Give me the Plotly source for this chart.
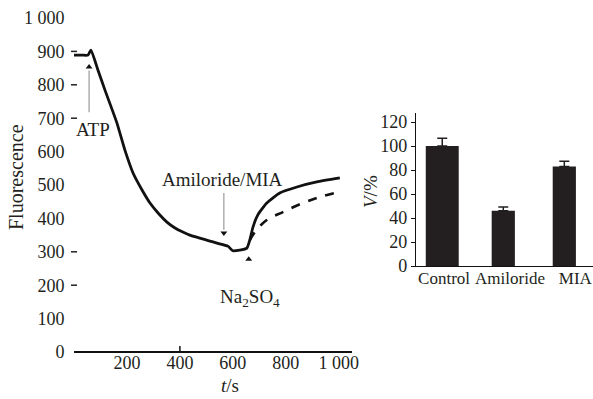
import plotly.graph_objects as go

# ---------------- data ----------------
# fluorescence trace (solid: control)
t_solid = [0, 30, 53, 64, 90, 117, 162, 192, 223, 257, 287, 320, 351, 380, 411, 440, 475, 510, 540, 581,
           600, 626, 653, 664, 676, 694, 728, 777, 842, 917, 1004]
f_solid = [889, 889, 889, 904, 845, 784, 686, 605, 536, 485, 446, 414, 389, 372, 359, 349, 341, 333, 326, 317,
           303, 305, 311, 335, 374, 410, 446, 476, 494, 509, 521]
# dashed: amiloride / MIA
t_dash = [664, 683, 728, 789, 864, 928, 985]
f_dash = [335, 359, 395, 419, 446, 464, 476]

x_ticks = [200, 400, 600, 800, 1000]
x_ticktext = ["200", "400", "600", "800", "1 000"]
y_ticks = [0, 100, 200, 300, 400, 500, 600, 700, 800, 900, 1000]
y_ticktext = ["0", "100", "200", "300", "400", "500", "600", "700", "800", "900", "1 000"]
y_dash_ticks = [900, 800, 700, 300, 200]

# events
atp_t, atp_from, atp_to = 57, 718, 853
ami_t, ami_from, ami_to = 566, 476, 356
na_t, na_val = 660, 278

# bar chart
groups = ["Control", "Amiloride", "MIA"]
v_pct = [100, 46, 83]
v_err = [6.5, 3.2, 4.3]
bar_widths = [0.54, 0.38, 0.38]
group_label_pos = [0.03, 1.11, 2.18]
v_ticks = [0, 20, 40, 60, 80, 100, 120]

FONT = "Liberation Serif"
TXT = "#231f20"
BAR = "#231f20"
GREY = "#9a9a9a"

fig = go.Figure()

fig.add_trace(go.Scatter(x=t_solid, y=f_solid, mode="lines", line=dict(color="#111111", width=2.8, shape="spline", smoothing=0.5),
                         xaxis="x", yaxis="y", showlegend=False, hoverinfo="skip"))
fig.add_trace(go.Scatter(x=t_dash, y=f_dash, mode="lines", line=dict(color="#111111", width=2.6, dash="dash", shape="spline"),
                         xaxis="x", yaxis="y", showlegend=False, hoverinfo="skip"))

# arrows (grey lines) + black arrowheads
fig.add_trace(go.Scatter(x=[atp_t, atp_t], y=[atp_from, atp_to - 10], mode="lines", line=dict(color=GREY, width=1.2),
                         xaxis="x", yaxis="y", showlegend=False, hoverinfo="skip"))
fig.add_trace(go.Scatter(x=[ami_t, ami_t], y=[ami_from, ami_to + 10], mode="lines", line=dict(color=GREY, width=1.2),
                         xaxis="x", yaxis="y", showlegend=False, hoverinfo="skip"))
fig.add_trace(go.Scatter(x=[atp_t, na_t], y=[atp_to, na_val], mode="markers",
                         marker=dict(symbol="triangle-up", size=6, color="#111111"),
                         xaxis="x", yaxis="y", showlegend=False, hoverinfo="skip"))
fig.add_trace(go.Scatter(x=[ami_t], y=[ami_to], mode="markers",
                         marker=dict(symbol="triangle-down", size=6, color="#111111"),
                         xaxis="x", yaxis="y", showlegend=False, hoverinfo="skip"))

# bars
fig.add_trace(go.Bar(x=groups, y=v_pct, width=bar_widths, marker=dict(color=BAR, line=dict(width=0)),
                     error_y=dict(type="data", array=v_err, arrayminus=[0, 0, 0], symmetric=False,
                                  color=BAR, thickness=1.5, width=5),
                     xaxis="x2", yaxis="y2", showlegend=False, hoverinfo="skip"))
# invisible helper trace so the category-label axis is drawn
fig.add_trace(go.Scatter(x=group_label_pos, y=[0, 0, 0], mode="markers", marker=dict(opacity=0, size=1),
                         xaxis="x3", yaxis="y2", showlegend=False, hoverinfo="skip"))

W, H = 593, 399
def px(x): return x / W
def py(y): return 1 - y / H

fig.update_layout(
    width=W, height=H, margin=dict(l=0, r=0, t=0, b=0, autoexpand=False),
    paper_bgcolor="white", plot_bgcolor="white",
    font=dict(family=FONT, size=18, color=TXT),
    # x axis placed a little above the zero line so its labels sit close to the line
    xaxis=dict(domain=[px(74), px(352)], range=[0, 1050], tickvals=x_ticks, ticktext=x_ticktext,
               showgrid=False, zeroline=False, showline=False,
               ticks="", tickfont=dict(size=18, family=FONT, color=TXT),
               anchor="free", position=py(350), automargin=False),
    yaxis=dict(domain=[py(352), py(18)], range=[0, 1000], tickvals=y_ticks, ticktext=y_ticktext,
               showgrid=False, zeroline=True, zerolinecolor="#111111", zerolinewidth=2,
               showline=False, ticks="outside", ticklen=5, tickcolor="rgba(0,0,0,0)",
               tickfont=dict(size=18, family=FONT, color=TXT), anchor="x", automargin=False),
    xaxis2=dict(domain=[px(416), px(593)], range=[-0.43, 2.47], type="category",
                showgrid=False, zeroline=False, showline=True, linecolor="#111111", linewidth=1.2,
                ticks="", showticklabels=False, anchor="y2", automargin=False),
    xaxis3=dict(domain=[px(416), px(593)], range=[-0.43, 2.47], overlaying="x2", anchor="y2",
                tickvals=group_label_pos, ticktext=groups, tickangle=0,
                showgrid=False, zeroline=False, showline=False, ticks="",
                tickfont=dict(size=17, family=FONT, color=TXT), automargin=False),
    yaxis2=dict(domain=[py(266), py(113)], range=[0, 127.5], tickvals=v_ticks,
                showgrid=False, zeroline=False, showline=True, linecolor="#111111", linewidth=1.2,
                ticks="outside", ticklen=4, tickcolor="#111111",
                tickfont=dict(size=18, family=FONT, color=TXT), anchor="x2", automargin=False),
)

shapes = []
for v in y_dash_ticks:
    shapes.append(dict(type="line", xref="paper", yref="y", x0=px(71), x1=px(77), y0=v, y1=v,
                       line=dict(color="#222222", width=1.5)))
shapes.append(dict(type="line", xref="x", yref="y", x0=400, x1=400, y0=0, y1=18,
                   line=dict(color="#111111", width=1.5)))
fig.update_layout(shapes=shapes)

ann = [
    dict(text="Fluorescence", x=px(16), y=py(177), xref="paper", yref="paper", textangle=-90,
         xanchor="center", yanchor="middle", showarrow=False, font=dict(size=20, family=FONT, color=TXT)),
    dict(text="<i>t</i>/s", x=px(230), y=py(385), xref="paper", yref="paper",
         xanchor="center", yanchor="middle", showarrow=False, font=dict(size=19, family=FONT, color=TXT)),
    dict(text="<i>V</i>/%", x=px(370), y=py(192), xref="paper", yref="paper", textangle=-90,
         xanchor="center", yanchor="middle", showarrow=False, font=dict(size=19, family=FONT, color=TXT)),
    dict(text="ATP", x=72, y=665, xref="x", yref="y", xanchor="center", yanchor="middle",
         showarrow=False, font=dict(size=19, family=FONT, color=TXT)),
    dict(text="Amiloride/MIA", x=562, y=515, xref="x", yref="y", xanchor="center", yanchor="middle",
         showarrow=False, font=dict(size=19, family=FONT, color=TXT)),
    dict(text="Na<sub>2</sub>SO<sub>4</sub>", x=664, y=162, xref="x", yref="y", xanchor="center", yanchor="middle",
         showarrow=False, font=dict(size=19, family=FONT, color=TXT)),
]
fig.update_layout(annotations=ann)

fig.write_html("out.html", config={"displayModeBar": False},
               post_script="document.body.style.margin='0px';document.body.style.overflow='hidden';")
